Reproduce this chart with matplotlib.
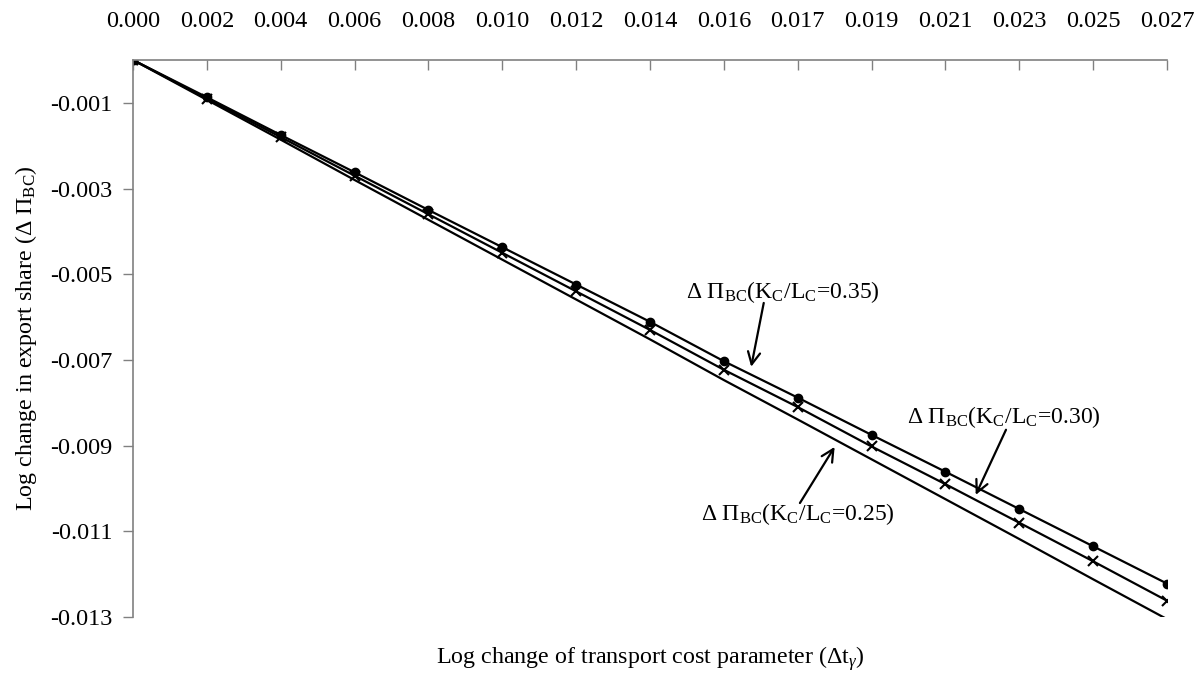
import matplotlib
matplotlib.use('Agg')
import matplotlib.pyplot as plt

plt.rcParams['font.family'] = ['Liberation Serif', 'DejaVu Serif']
plt.rcParams['mathtext.fontset'] = 'custom'
plt.rcParams['mathtext.rm'] = 'Liberation Serif'
plt.rcParams['mathtext.it'] = 'Liberation Serif:italic'

# categorias do eixo x (variacao do parametro de custo de transporte)
categorias = ['0.000', '0.002', '0.004', '0.006', '0.008', '0.010', '0.012', '0.014',
              '0.016', '0.017', '0.019', '0.021', '0.023', '0.025', '0.027']

kl_035 = [0, -0.00087, -0.00175, -0.00262, -0.00350, -0.00437, -0.00524, -0.00611,
          -0.00703, -0.00788, -0.00875, -0.00961, -0.01048, -0.01135, -0.01222]
kl_030 = [0, -0.00090, -0.00180, -0.00270, -0.00360, -0.00450, -0.00540, -0.00630,
          -0.00723, -0.00810, -0.00902, -0.00990, -0.01080, -0.01170, -0.01262]
kl_025 = [0, -0.00093, -0.00186, -0.00280, -0.00373, -0.00466, -0.00559, -0.00652,
          -0.00747, -0.00839, -0.00932, -0.01025, -0.01118, -0.01212, -0.01305]

yticks = [-0.001, -0.003, -0.005, -0.007, -0.009, -0.011, -0.013]

fig = plt.figure(figsize=(11.98, 6.76), dpi=100)
ax = fig.add_axes([133/1198, 1-617/676, (1167-133)/1198, (617-60)/676])

x = list(range(len(categorias)))
ax.plot(x, kl_025, color='black', lw=1.6, marker='s', markersize=6, markevery=[0])
ax.plot(x, kl_030, color='black', lw=1.6, marker='x', markersize=7, markeredgewidth=1.5)
ax.plot(x, kl_035, color='black', lw=1.6, marker='o', markersize=6)

ax.set_xlim(0, len(categorias)-1)
ax.set_ylim(-0.013, 0)
ax.xaxis.tick_top()
ax.set_xticks(x)
ax.set_xticklabels(categorias)
ax.set_yticks(yticks)
ax.set_yticklabels(['%.3f' % v for v in yticks])
ax.tick_params(axis='x', direction='in', length=7, width=1, color='#808080', pad=20, labelsize=17.5)
ax.tick_params(axis='y', direction='out', length=7, width=1, color='#808080', pad=7.5, labelsize=17.5)

for s in ['bottom', 'right']:
    ax.spines[s].set_visible(False)
for s in ['top', 'left']:
    ax.spines[s].set_color('#808080')
    ax.spines[s].set_linewidth(1.2)

fig.text(650/1198, 1-659/676, r'Log change of transport cost parameter ($\Delta\mathrm{t}_{\gamma}$)',
         ha='center', va='center', fontsize=17.3)
fig.text(26/1198, 1-338/676, r'Log change in export share ($\Delta\ \Pi_{\mathrm{BC}}$)',
         ha='center', va='center', rotation=90, fontsize=17.3)

rotulos = [
    (r'$\Delta\ \Pi_{\mathrm{BC}}(\mathrm{K_C/L_C}$=0.35)', (8.80, -0.00541), (8.54, -0.00567), (8.37, -0.00716)),
    (r'$\Delta\ \Pi_{\mathrm{BC}}(\mathrm{K_C/L_C}$=0.30)', (11.79, -0.00833), (11.82, -0.00863), (11.41, -0.01015)),
    (r'$\Delta\ \Pi_{\mathrm{BC}}(\mathrm{K_C/L_C}$=0.25)', (9.00, -0.01060), (9.03, -0.01034), (9.50, -0.00903)),
]
for txt, pos, tail, head in rotulos:
    ax.text(pos[0], pos[1], txt, ha='center', va='center', fontsize=17)
    ax.annotate('', xy=head, xytext=tail,
                arrowprops=dict(arrowstyle='->', color='black', lw=1.6,
                                shrinkA=0, shrinkB=0, mutation_scale=22))

fig.savefig('out.png', dpi=100)
